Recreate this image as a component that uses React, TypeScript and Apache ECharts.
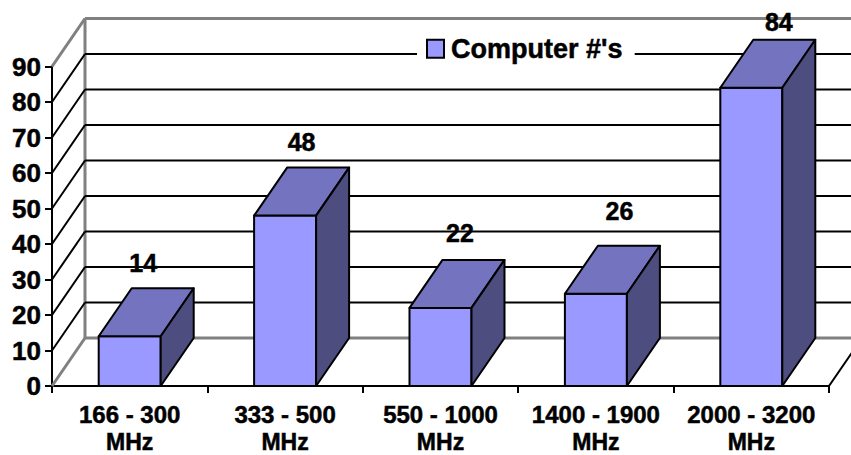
import React, { useEffect, useRef } from "react";
import * as echarts from "echarts";

const categories = ["166 - 300\nMHz", "333 - 500\nMHz", "550 - 1000\nMHz", "1400 - 1900\nMHz", "2000 - 3200\nMHz"];
const computerCounts = [14, 48, 22, 26, 84];
const seriesName = "Computer #'s";
const wallLevels = [0, 10, 20, 30, 40, 50, 60, 70, 80, 90];

// Oblique projection of the chart box.
const DEPTH_X = 33;
const DEPTH_Y = -48;
const BAR_WIDTH = 62;
const FONT = "Liberation Sans, Arial, sans-serif";

// Value label nudges from the top-face centre, per bar.
const labelShiftX = [-3, 0, 3, 7, 11];
const labelLift = [25, 26, 27, 35, 18];

const FRONT = "#9999FF";
const TOP = "#7373BF";
const SIDE = "#4D4D80";
const WALL_GREY = "#808080";

const axisTextLine = {
  fontFamily: FONT,
  fontWeight: "bold",
  fontSize: 24,
  color: "#000",
  textBorderColor: "#000",
  textBorderWidth: 0.5,
};

function renderWalls(params: any, api: any) {
  const level = api.value(1);
  const box = params.coordSys;
  const y = api.coord([0, level])[1];
  const left = box.x;
  const right = box.x + box.width;
  const isFrame = level === 0 || level === 90;
  const grey = { stroke: WALL_GREY, lineWidth: 3, fill: "none" };
  const black = { stroke: "#000", lineWidth: 2, fill: "none" };
  const children: any[] = [
    {
      type: "line",
      shape: { x1: left, y1: y, x2: left + DEPTH_X, y2: y + DEPTH_Y },
      style: isFrame ? grey : black,
    },
    {
      type: "line",
      shape: { x1: left + DEPTH_X, y1: y + DEPTH_Y, x2: right + DEPTH_X, y2: y + DEPTH_Y },
      style: isFrame ? grey : black,
    },
  ];
  if (level === 0) {
    children.push(
      {
        type: "line",
        shape: { x1: right, y1: y, x2: right + DEPTH_X, y2: y + DEPTH_Y },
        style: black,
      },
      {
        type: "line",
        shape: { x1: left + DEPTH_X, y1: y + DEPTH_Y, x2: left + DEPTH_X, y2: box.y + DEPTH_Y },
        style: grey,
      }
    );
  }
  return { type: "group", children };
}

function renderBar(params: any, api: any) {
  const index = api.value(0);
  const value = api.value(1);
  const [cx, y0] = api.coord([index, 0]);
  const y1 = api.coord([index, value])[1];
  const xl = cx - BAR_WIDTH / 2;
  const xr = cx + BAR_WIDTH / 2;
  const edge = { stroke: "#000", lineWidth: 2, lineJoin: "round" };
  const i = params.dataIndex;
  return {
    type: "group",
    children: [
      {
        type: "polygon",
        shape: { points: [[xl, y0], [xr, y0], [xr, y1], [xl, y1]] },
        style: { fill: FRONT, ...edge },
      },
      {
        type: "polygon",
        shape: { points: [[xl, y1], [xr, y1], [xr + DEPTH_X, y1 + DEPTH_Y], [xl + DEPTH_X, y1 + DEPTH_Y]] },
        style: { fill: TOP, ...edge },
      },
      {
        type: "polygon",
        shape: { points: [[xr, y0], [xr + DEPTH_X, y0 + DEPTH_Y], [xr + DEPTH_X, y1 + DEPTH_Y], [xr, y1]] },
        style: { fill: SIDE, ...edge },
      },
      {
        type: "text",
        style: {
          text: String(value),
          x: cx + DEPTH_X / 2 + labelShiftX[i],
          y: y1 + DEPTH_Y - labelLift[i],
          textAlign: "center",
          textVerticalAlign: "middle",
          font: `bold 25px ${FONT}`,
          fill: "#000",
          stroke: "#000",
          lineWidth: 0.5,
        },
      },
    ],
  };
}

export default function App() {
  const ref = useRef<HTMLDivElement>(null);
  useEffect(() => {
    const chart = echarts.init(ref.current!, null, { renderer: "svg" });
    chart.setOption({
      animation: false,
      backgroundColor: "#fff",
      grid: { left: 52, right: 22, top: 66.5, bottom: 69, containLabel: false, outerBoundsMode: "none" },
      legend: {
        data: [seriesName],
        left: 417,
        top: 29,
        padding: [6, 12, 6, 9],
        backgroundColor: "#fff",
        icon: "rect",
        itemWidth: 17,
        itemHeight: 18,
        itemGap: 0,
        selectedMode: false,
        itemStyle: { color: FRONT, borderColor: "#000", borderWidth: 2 },
        textStyle: {
          fontFamily: FONT,
          fontWeight: "bold",
          fontSize: 27,
          color: "#000",
          padding: [0, 0, 0, 2],
          textBorderColor: "#000",
          textBorderWidth: 0.5,
        },
      },
      xAxis: {
        type: "category",
        data: categories,
        axisLine: { lineStyle: { color: "#000", width: 2 } },
        axisTick: { show: true, length: 7, lineStyle: { color: "#000", width: 2 } },
        axisLabel: {
          interval: 0,
          margin: 10,
          // A tall first line and a short second keep both rows inside the page.
          formatter: (name: string) => {
            const [range, unit] = name.split("\n");
            return `{range|${range}}\n{unit|${unit}}`;
          },
          rich: {
            range: { ...axisTextLine, lineHeight: 36 },
            unit: { ...axisTextLine, fontSize: 23, lineHeight: 20 },
          },
        },
      },
      yAxis: {
        type: "value",
        min: 0,
        max: 90,
        interval: 10,
        splitLine: { show: false },
        axisLine: { show: true, lineStyle: { color: "#000", width: 2 } },
        axisTick: { show: true, length: 7, lineStyle: { color: "#000", width: 2 } },
        axisLabel: {
          margin: 11,
          fontFamily: FONT,
          fontWeight: "bold",
          fontSize: 26,
          color: "#000",
          textBorderColor: "#000",
          textBorderWidth: 0.5,
        },
      },
      series: [
        {
          type: "custom",
          name: "walls",
          silent: true,
          z: 1,
          renderItem: renderWalls,
          data: wallLevels.map((v) => [0, v]),
        },
        {
          type: "custom",
          name: seriesName,
          z: 2,
          renderItem: renderBar,
          itemStyle: { color: FRONT },
          data: computerCounts.map((v, i) => [i, v]),
        },
      ],
    });
    return () => chart.dispose();
  }, []);
  return <div ref={ref} style={{ position: "absolute", left: 0, top: 0, width: 851, height: 455 }} />;
}
